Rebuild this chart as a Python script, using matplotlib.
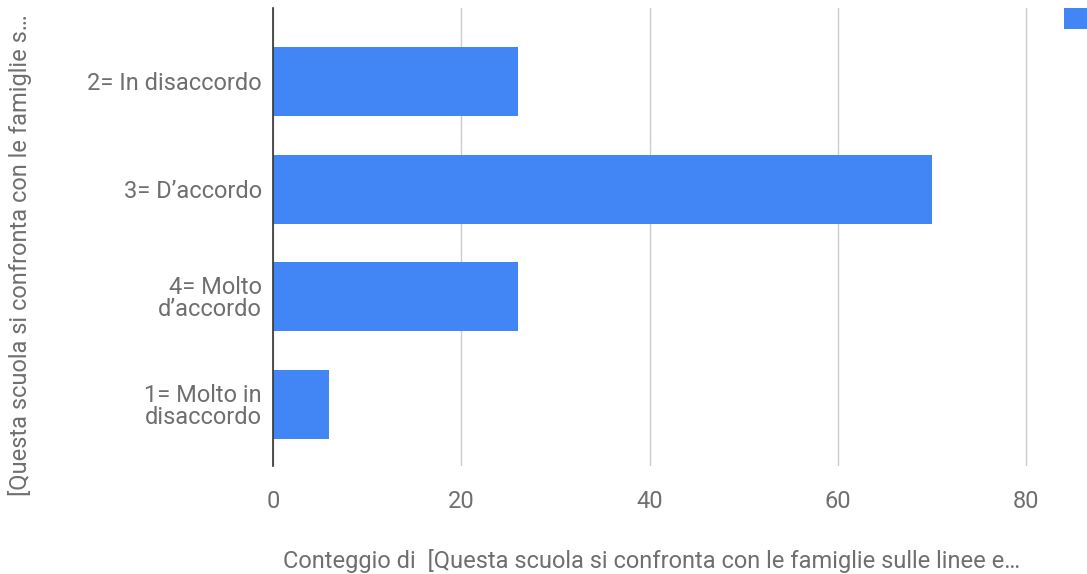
import matplotlib
matplotlib.use("Agg")
import matplotlib.pyplot as plt
from matplotlib.patches import Patch

categories = ["2= In disaccordo", "3= D\u2019accordo", "4= Molto\nd\u2019accordo", "1= Molto in\ndisaccordo"]
counts = [26, 70, 26, 6]
xticks = [0, 20, 40, 60, 80]

plt.rcParams['font.family'] = ['Roboto', 'DejaVu Sans']

fig = plt.figure(figsize=(10.87, 5.74), dpi=100)
W, H = 1087, 574
left, right, top, bottom = 273, 1045, 8, 466
ax = fig.add_axes([left / W, 1 - bottom / H, (right - left) / W, (bottom - top) / H])

color = '#4285F4'
txt = '#6f6f6f'
ypos = list(range(len(categories)))
ax.barh(ypos, counts, height=0.64, color=color, zorder=3)
ax.set_ylim(3.57, -0.68)
ax.set_xlim(0, 82)
ax.set_xticks(xticks)
ax.set_xticklabels([str(t) for t in xticks])
ax.set_yticks(ypos)
ax.set_yticklabels(categories, linespacing=0.95)

ax.grid(axis='x', color='#cccccc', linewidth=1, zorder=0)
for s in ['top', 'right', 'bottom']:
    ax.spines[s].set_visible(False)
ax.spines['left'].set_color('#333333')
ax.spines['left'].set_linewidth(1.2)
ax.spines['left'].set_zorder(4)
ax.tick_params(axis='both', length=0, labelsize=17, colors=txt)
ax.tick_params(axis='x', pad=17)
ax.tick_params(axis='y', pad=8)

ax.set_xlabel("Conteggio di  [Questa scuola si confronta con le famiglie sulle linee e\u2026",
              fontsize=17, color=txt, labelpad=26, x=0.49)
fig.text(20 / W, 1 - 255 / H, "[Questa scuola si confronta con le famiglie s\u2026",
         rotation=90, fontsize=17, color=txt, ha='center', va='center')

fig.legend(handles=[Patch(facecolor=color, edgecolor='none')], labels=[''],
           loc='upper left', bbox_to_anchor=(1064 / W, 1 - 8 / H),
           frameon=False, borderpad=0, borderaxespad=0, fontsize=14,
           handlelength=1.25, handleheight=1.25, handletextpad=0.3)

fig.savefig('out.png', dpi=100)
